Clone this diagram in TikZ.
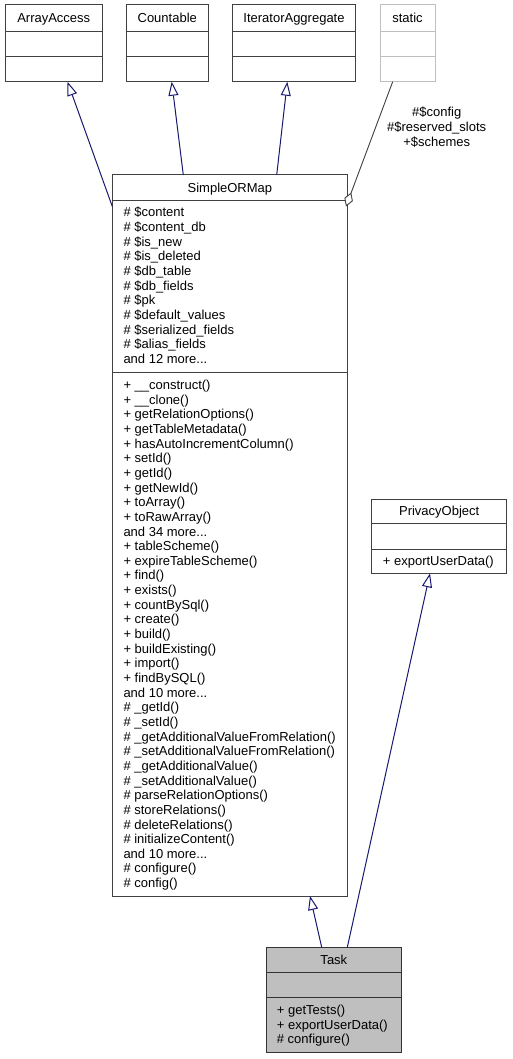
\documentclass[tikz,border=0pt]{standalone}
\usepackage{fontspec}
\setmainfont{Liberation Sans}
\usetikzlibrary{arrows.meta}
\definecolor{boxc}{HTML}{404040}
\definecolor{statc}{HTML}{BFBFBF}
\definecolor{edgec}{HTML}{191970}
\definecolor{aggc}{HTML}{404040}
\newcommand\mrdots{...}
\begin{document}
\begin{tikzpicture}[x=1pt,y=-1pt,
  box/.style={draw=boxc,line width=1pt,fill=white,inner sep=0pt,outer sep=0pt,anchor=north west},
  divl/.style={draw=boxc,line width=1pt},
  txt/.style={inner sep=0pt,anchor=base west,font=\fontsize{13}{14.65}\selectfont},
  ttl/.style={inner sep=0pt,anchor=base,font=\fontsize{13}{14.65}\selectfont},
  inh/.style={draw=edgec,line width=1pt,-{Triangle[open,length=14pt,width=10pt,fill=white]}},
  agg/.style={draw=aggc,line width=0.9pt,-{Diamond[open,length=15pt,width=9pt,fill=white]}}
]
\useasboundingbox (0,0) rectangle (512,1059);
\fill[white] (0,0) rectangle (512,1059);

% ArrayAccess
\node[box,minimum width=97.5pt,minimum height=76.7pt] (aa) at (5,5) {};
\draw[divl] (aa.west |- 0,31.5) -- (aa.east |- 0,31.5);
\draw[divl] (aa.west |- 0,57) -- (aa.east |- 0,57);
\node[ttl] (aat) at (53.75,23) {ArrayAccess};

% Countable
\node[box,minimum width=81.5pt,minimum height=76.7pt] (cnt) at (126.5,5) {};
\draw[divl] (cnt.west |- 0,31.5) -- (cnt.east |- 0,31.5);
\draw[divl] (cnt.west |- 0,57) -- (cnt.east |- 0,57);
\node[ttl] (cntt) at (167.25,23) {Countable};

% IteratorAggregate
\node[box,minimum width=123pt,minimum height=76.7pt] (itag) at (232.5,5) {};
\draw[divl] (itag.west |- 0,31.5) -- (itag.east |- 0,31.5);
\draw[divl] (itag.west |- 0,57) -- (itag.east |- 0,57);
\node[ttl] (itagt) at (294,23) {IteratorAggregate};

% static
\node[box,draw=statc,minimum width=55pt,minimum height=76.7pt] (stat) at (380,5) {};
\draw[divl,draw=statc] (stat.west |- 0,31.5) -- (stat.east |- 0,31.5);
\draw[divl,draw=statc] (stat.west |- 0,57) -- (stat.east |- 0,57);
\node[ttl] (statt) at (407.5,23) {static};

% SimpleORMap
\node[box,minimum width=234.8pt,minimum height=721pt] (sorm) at (112.5,175) {};
\draw[divl] (sorm.west |- 0,200.7) -- (sorm.east |- 0,200.7);
\draw[divl] (sorm.west |- 0,372.3) -- (sorm.east |- 0,372.3);
\node[ttl] (sormt) at (229.9,192.3) {SimpleORMap};
\foreach \t [count=\i from 0] in {
  \# \$content, \# \$content\_db, \# \$is\_new, \# \$is\_deleted, \# \$db\_table,
  \# \$db\_fields, \# \$pk, \# \$default\_values, \# \$serialized\_fields,
  \# \$alias\_fields, and 12 more\mrdots}
  \node[txt] (sa\i) at (123.3,216.8+\i*14.65) {\t};
\foreach \t [count=\i from 0] in {
  + \_\_construct(), + \_\_clone(), + getRelationOptions(), + getTableMetadata(),
  + hasAutoIncrementColumn(), + setId(), + getId(), + getNewId(), + toArray(),
  + toRawArray(), and 34 more\mrdots, + tableScheme(), + expireTableScheme(),
  + find(), + exists(), + countBySql(), + create(), + build(), + buildExisting(),
  + import(), + findBySQL(), and 10 more\mrdots, \# \_getId(), \# \_setId(),
  \# \_getAdditionalValueFromRelation(), \# \_setAdditionalValueFromRelation(),
  \# \_getAdditionalValue(), \# \_setAdditionalValue(), \# parseRelationOptions(),
  \# storeRelations(), \# deleteRelations(), \# initializeContent(),
  and 10 more\mrdots, \# configure(), \# config()}
  \node[txt] (sm\i) at (123.3,389.5+\i*14.65) {\t};

% PrivacyObject
\node[box,minimum width=135pt,minimum height=74.3pt] (priv) at (371.7,499) {};
\draw[divl] (priv.west |- 0,523.3) -- (priv.east |- 0,523.3);
\draw[divl] (priv.west |- 0,549.3) -- (priv.east |- 0,549.3);
\node[ttl] (privt) at (439.2,515.5) {PrivacyObject};
\node[txt] (privm) at (382.7,565.5) {+ exportUserData()};

% Task
\node[box,fill=statc,draw=black!80,minimum width=134.3pt,minimum height=105pt] (task) at (266.7,947.3) {};
\draw[divl,draw=black!80] (task.west |- 0,972.3) -- (task.east |- 0,972.3);
\draw[divl,draw=black!80] (task.west |- 0,997.7) -- (task.east |- 0,997.7);
\node[ttl] (taskt) at (333.85,964) {Task};
\node[txt] (tm0) at (276.7,1014.5) {+ getTests()};
\node[txt] (tm1) at (276.7,1029.2) {+ exportUserData()};
\node[txt] (tm2) at (276.7,1043.8) {\# configure()};

% connector end points
\coordinate (aaTip) at (67.5,81.7);
\coordinate (cntTip) at (171.7,81.7);
\coordinate (itagTip) at (287.3,81.7);
\coordinate (statEnd) at (392.7,81.7);
\coordinate (sormA) at (112.3,206.5);
\coordinate (sormB) at (183.3,175);
\coordinate (sormC) at (276.7,175);
\coordinate (sormD) at (346,206.5);
\coordinate (sormE) at (310,896);
\coordinate (privTip) at (430,573.3);
\coordinate (taskA) at (321.7,947.3);
\coordinate (taskB) at (347.3,947.3);

\draw[inh] (sormA) -- (aaTip);
\draw[inh] (sormB) -- (cntTip);
\draw[inh] (sormC) -- (itagTip);
\draw[agg] (statEnd) -- (sormD);
\draw[inh] (taskA) -- (sormE);
\draw[inh] (taskB) -- (privTip);

\node[ttl] (lbl1) at (436.7,117) {\#\$config};
\node[ttl] (lbl2) at (436.7,132) {\#\$reserved\_slots};
\node[ttl] (lbl3) at (436.7,147) {+\$schemes};
\end{tikzpicture}
\end{document}
